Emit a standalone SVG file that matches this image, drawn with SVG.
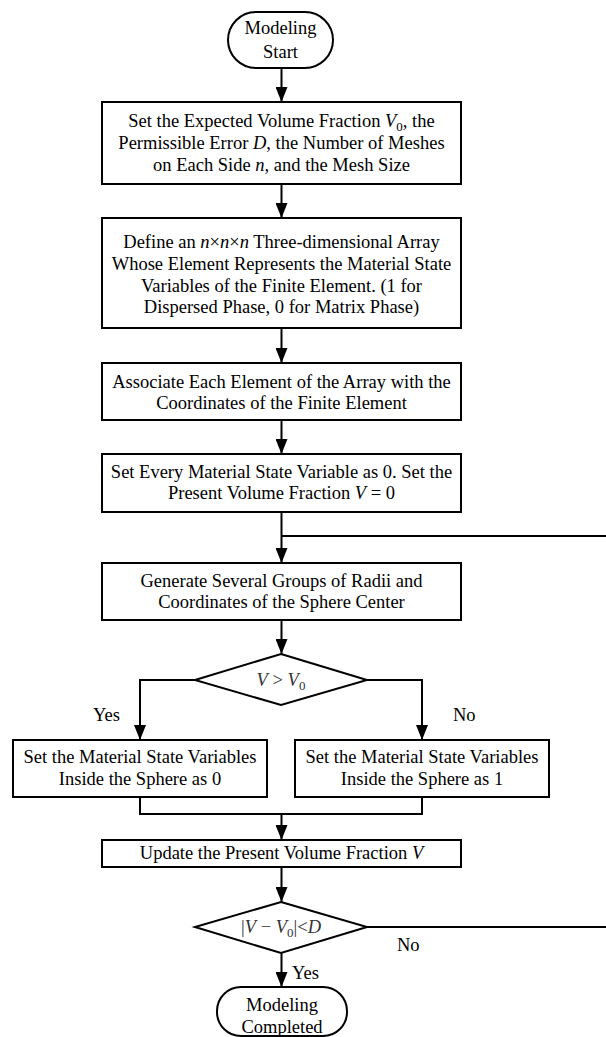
<svg xmlns="http://www.w3.org/2000/svg" width="606" height="1037" viewBox="0 0 606 1037">
<style>
text{font-family:"Liberation Serif","Times New Roman",serif;font-size:18.5px;fill:#000;text-anchor:middle}
.lbl{text-anchor:start}
.it{font-style:italic}
.sh{fill:#fff;stroke:#000;stroke-width:2}
.ln{fill:none;stroke:#000;stroke-width:2}
.dm{fill:#333}
</style>
<defs>
<marker id="ah" markerUnits="userSpaceOnUse" markerWidth="15" markerHeight="12" refX="15" refY="6" orient="auto">
<path d="M0,0 L15,6 L0,12 z" fill="#000"/>
</marker>
</defs>
<g id="connectors">
<line class="ln" x1="281.5" y1="68" x2="281.5" y2="102" marker-end="url(#ah)"/>
<line class="ln" x1="281.5" y1="184" x2="281.5" y2="218" marker-end="url(#ah)"/>
<line class="ln" x1="281.5" y1="328" x2="281.5" y2="363" marker-end="url(#ah)"/>
<line class="ln" x1="281.5" y1="420" x2="281.5" y2="454" marker-end="url(#ah)"/>
<line class="ln" x1="281.5" y1="512" x2="281.5" y2="563" marker-end="url(#ah)"/>
<line class="ln" x1="281.5" y1="536" x2="606" y2="536"/>
<line class="ln" x1="281.5" y1="620" x2="281.5" y2="654" marker-end="url(#ah)"/>
<polyline class="ln" points="195,680 140,680 140,740" marker-end="url(#ah)"/>
<polyline class="ln" points="367,680 422,680 422,740" marker-end="url(#ah)"/>
<polyline class="ln" points="140,797 140,814 422,814 422,797"/>
<line class="ln" x1="281.5" y1="814" x2="281.5" y2="840" marker-end="url(#ah)"/>
<line class="ln" x1="281.5" y1="867" x2="281.5" y2="902" marker-end="url(#ah)"/>
<line class="ln" x1="367" y1="927" x2="606" y2="927"/>
<line class="ln" x1="281.5" y1="953" x2="281.5" y2="987" marker-end="url(#ah)"/>
<text class="lbl" x="93" y="721">Yes</text>
<text class="lbl" x="453" y="721">No</text>
<text class="lbl" x="397" y="951">No</text>
<text class="lbl" x="292" y="979">Yes</text>
</g>
<g id="start">
<rect class="sh" x="228" y="12" width="105" height="56" rx="28" ry="28"/>
<text x="280.5" y="34">Modeling</text>
<text x="280.5" y="58">Start</text>
</g>
<g id="box1">
<rect class="sh" x="102" y="102" width="359" height="82"/>
<text x="281.5" y="127">Set the Expected Volume Fraction <tspan class="it">V</tspan><tspan font-size="13" dy="4">0</tspan><tspan dy="-4">, the</tspan></text>
<text x="281.5" y="149">Permissible Error <tspan class="it">D</tspan>, the Number of Meshes</text>
<text x="281.5" y="171">on Each Side <tspan class="it">n</tspan>, and the Mesh Size</text>
</g>
<g id="box2">
<rect class="sh" x="102" y="218" width="359" height="110"/>
<text x="281.5" y="248">Define an <tspan class="it">n</tspan>×<tspan class="it">n</tspan>×<tspan class="it">n</tspan> Three-dimensional Array</text>
<text x="281.5" y="270">Whose Element Represents the Material State</text>
<text x="281.5" y="292">Variables of the Finite Element. (1 for</text>
<text x="281.5" y="313">Dispersed Phase, 0 for Matrix Phase)</text>
</g>
<g id="box3">
<rect class="sh" x="102" y="363" width="359" height="57"/>
<text x="281.5" y="388">Associate Each Element of the Array with the</text>
<text x="281.5" y="409">Coordinates of the Finite Element</text>
</g>
<g id="box4">
<rect class="sh" x="102" y="454" width="359" height="58"/>
<text x="281.5" y="478">Set Every Material State Variable as 0. Set the</text>
<text x="281.5" y="499">Present Volume Fraction <tspan class="it">V</tspan> = 0</text>
</g>
<g id="box5">
<rect class="sh" x="102" y="563" width="359" height="57"/>
<text x="281.5" y="587">Generate Several Groups of Radii and</text>
<text x="281.5" y="608">Coordinates of the Sphere Center</text>
</g>
<g id="decision1">
<polygon class="sh" points="281,654 367,680 281,705 195,680"/>
<text class="dm" x="281" y="686"><tspan class="it">V</tspan> &gt; <tspan class="it">V</tspan><tspan font-size="13" dy="4">0</tspan></text>
</g>
<g id="box6">
<rect class="sh" x="13" y="740" width="254" height="57"/>
<text x="140" y="763">Set the Material State Variables</text>
<text x="140" y="785">Inside the Sphere as 0</text>
</g>
<g id="box7">
<rect class="sh" x="295" y="740" width="254" height="57"/>
<text x="422" y="763">Set the Material State Variables</text>
<text x="422" y="785">Inside the Sphere as 1</text>
</g>
<g id="update">
<rect class="sh" x="102" y="840" width="359" height="27"/>
<text x="281.5" y="859">Update the Present Volume Fraction <tspan class="it">V</tspan></text>
</g>
<g id="decision2">
<polygon class="sh" points="281,902 367,927 281,953 195,927"/>
<text class="dm" x="281" y="933">|<tspan class="it">V</tspan> − <tspan class="it">V</tspan><tspan font-size="13" dy="4">0</tspan><tspan dy="-4">|&lt;</tspan><tspan class="it">D</tspan></text>
</g>
<g id="end">
<rect class="sh" x="217" y="987" width="130" height="49" rx="24" ry="24"/>
<text x="282" y="1011">Modeling</text>
<text x="282" y="1033">Completed</text>
</g>
</svg>
